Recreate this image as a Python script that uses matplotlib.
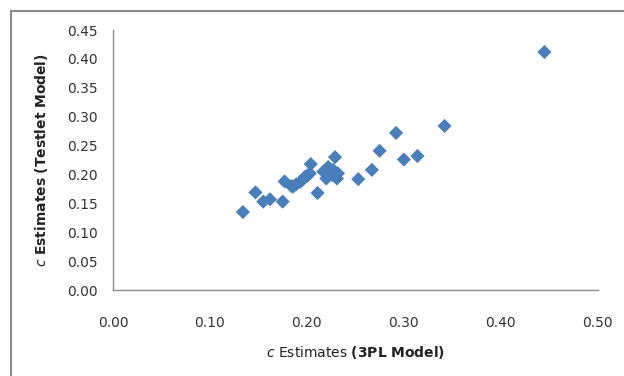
import matplotlib.pyplot as plt
from matplotlib.lines import Line2D

# c estimates
c_3pl = [0.134, 0.147, 0.155, 0.162, 0.175, 0.177, 0.184, 0.186, 0.189, 0.193,
         0.195, 0.198, 0.200, 0.203, 0.204, 0.211, 0.217, 0.222, 0.227, 0.232,
         0.220, 0.231, 0.226, 0.229, 0.253, 0.267, 0.275, 0.292, 0.300, 0.314,
         0.342, 0.445]
c_testlet = [0.135, 0.169, 0.153, 0.157, 0.153, 0.188, 0.180, 0.179, 0.183, 0.187,
             0.190, 0.196, 0.197, 0.202, 0.218, 0.168, 0.205, 0.213, 0.208, 0.202,
             0.193, 0.193, 0.199, 0.230, 0.192, 0.208, 0.241, 0.272, 0.226, 0.232,
             0.284, 0.412]

xticks = [0.0, 0.1, 0.2, 0.3, 0.4, 0.5]
yticks = [0.0, 0.05, 0.10, 0.15, 0.20, 0.25, 0.30, 0.35, 0.40, 0.45]

fig = plt.figure(figsize=(6.24, 3.76), dpi=100)
ax = fig.add_axes([0.181, 0.2287, 0.777, 0.6913])

ax.scatter(c_3pl, c_testlet, marker='D', s=52, color='#4A7EBB', edgecolors='none', zorder=3)

ax.set_xlim(0, 0.5)
ax.set_ylim(0, 0.45)
ax.set_xticks(xticks)
ax.set_yticks(yticks)
ax.set_xticklabels(['%.2f' % v for v in xticks])
ax.set_yticklabels(['%.2f' % v for v in yticks])
ax.tick_params(axis='x', length=0, pad=19, labelsize=10, labelcolor='#333333')
ax.tick_params(axis='y', length=0, pad=11, labelsize=10, labelcolor='#333333')

for s in ['top', 'right']:
    ax.spines[s].set_visible(False)
for s in ['left', 'bottom']:
    ax.spines[s].set_color('#8c8c8c')
    ax.spines[s].set_linewidth(1.0)

ax.set_xlabel(r'$\mathit{c}$ Estimates $\mathbf{(3PL\ Model)}$', fontsize=10, color='#222222', labelpad=10)
ax.set_ylabel(r'$\mathbf{\mathit{c}\ Estimates\ (Testlet\ Model)}$', fontsize=10, color='#222222', labelpad=12)

# outer chart border (left and top edges visible)
fig.add_artist(Line2D([11 / 624, 11 / 624], [0, 1 - 11 / 376], transform=fig.transFigure, color='#8c8c8c', lw=1.5))
fig.add_artist(Line2D([11 / 624, 1], [1 - 11 / 376, 1 - 11 / 376], transform=fig.transFigure, color='#8c8c8c', lw=1.5))

fig.savefig('out.png', dpi=100)
